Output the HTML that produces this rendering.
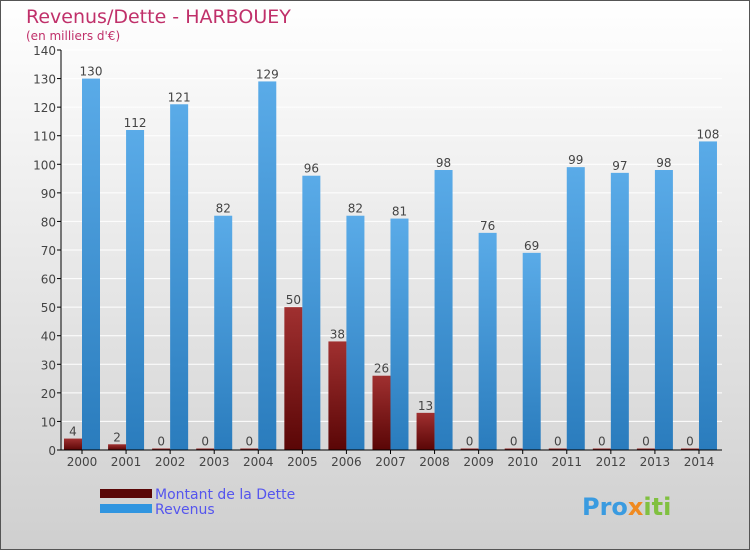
<!DOCTYPE html>
<html><head><meta charset="utf-8"><style>
body{margin:0;}
svg text{font-family:"DejaVu Sans","Liberation Sans",sans-serif;}
</style></head><body>
<svg id="c" width="750" height="550" xmlns="http://www.w3.org/2000/svg">
<defs>
<linearGradient id="bg" x1="0" y1="0" x2="0" y2="1"><stop offset="0" stop-color="#ffffff"/><stop offset="1" stop-color="#cfcfcf"/></linearGradient>
<linearGradient id="gb" x1="0" y1="0" x2="0" y2="1"><stop offset="0" stop-color="#5aabe8"/><stop offset="1" stop-color="#2a7cbd"/></linearGradient>
<linearGradient id="gr" x1="0" y1="0" x2="0" y2="1"><stop offset="0" stop-color="#a03030"/><stop offset="1" stop-color="#5a0606"/></linearGradient>
</defs>
<rect x="0.5" y="0.5" width="749" height="549" fill="url(#bg)" stroke="#555"/>
<text x="26" y="23" font-size="19" fill="#c0306a">Revenus/Dette - HARBOUEY</text>
<text x="26" y="40" font-size="12" fill="#c0306a">(en milliers d'€)</text>
<g id="grid"></g><g id="bars"></g><g id="axes"></g>
<rect x="100" y="489" width="52" height="9" fill="#5a0606"/>
<text x="155" y="499" font-size="14" fill="#5555ee">Montant de la Dette</text>
<rect x="100" y="504" width="52" height="9" fill="#3095e0"/>
<text x="155" y="514" font-size="14" fill="#5555ee">Revenus</text>
<text x="582" y="515" font-size="24" font-weight="bold" fill="#3a9be0">Pro<tspan fill="#f08a20">x</tspan><tspan fill="#80c040">iti</tspan></text>
</svg>
<script>
const years=["2000","2001","2002","2003","2004","2005","2006","2007","2008","2009","2010","2011","2012","2013","2014"];
const dette=[4,2,0,0,0,50,38,26,13,0,0,0,0,0,0];
const revenus=[130,112,121,82,129,96,82,81,98,76,69,99,97,98,108];
const yTicks=[0,10,20,30,40,50,60,70,80,90,100,110,120,130,140];
const NS="http://www.w3.org/2000/svg";
const y0=450,ppu=400/140,x0=82,step=44.07,bw=18;
const Y=v=>y0-v*ppu, X=i=>x0+i*step;
function mk(t,a,p,txt){const e=document.createElementNS(NS,t);for(const k in a)e.setAttribute(k,a[k]);if(txt!==undefined)e.textContent=txt;document.getElementById(p).appendChild(e);return e;}
yTicks.forEach(v=>{
 const g=mk('line',{x1:61,x2:722,y1:Y(v),y2:Y(v),stroke:'#ffffff','stroke-width':1},'grid');
 
 
 const t=mk('line',{x1:57,x2:61,y1:Y(v),y2:Y(v),stroke:'#000'},'axes');
 
 
 const l=mk('text',{x:56,y:Y(v)+5,'font-size':12,fill:'#444','text-anchor':'end'},'axes',v);
 
 
});
years.forEach((yr,i)=>{
 const cx=X(i);
 const d=dette[i],r=revenus[i];
 const hd=Math.max(d*ppu,1.5);
 const b1=mk('rect',{x:cx-bw,y:y0-hd,width:bw,height:hd,fill:'url(#gr)'},'bars');
 
 
 const t1=mk('text',{x:cx-bw/2,y:y0-hd-3,'font-size':12,fill:'#444','text-anchor':'middle'},'bars',d);
 
 
 const b2=mk('rect',{x:cx,y:Y(r),width:bw,height:r*ppu,fill:'url(#gb)'},'bars');
 
 
 const t2=mk('text',{x:cx+bw/2,y:Y(r)-3,'font-size':12,fill:'#444','text-anchor':'middle'},'bars',r);
 
 
 const tk=mk('line',{x1:cx,x2:cx,y1:y0,y2:y0+4,stroke:'#000'},'axes');
 
 
 const xl=mk('text',{x:cx,y:466,'font-size':12,fill:'#444','text-anchor':'middle'},'axes',yr);
 
 
});
const ax=mk('line',{x1:61,x2:61,y1:50,y2:450,stroke:'#000'},'axes');


const bx=mk('line',{x1:61,x2:722,y1:450,y2:450,stroke:'#000'},'axes');


</script>
</body></html>
